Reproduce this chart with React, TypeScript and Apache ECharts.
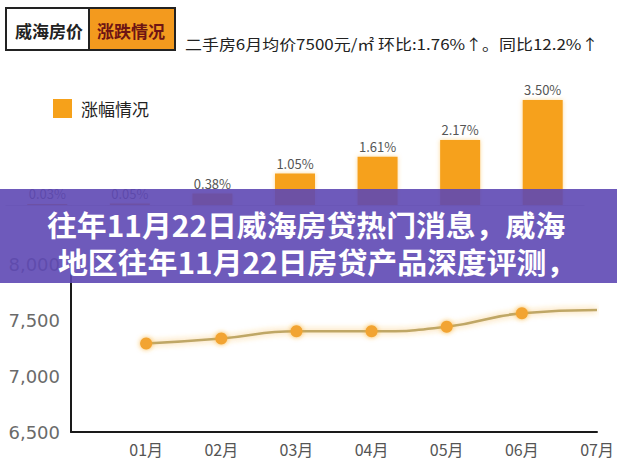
import React, { useEffect, useRef } from 'react';
import * as echarts from 'echarts';

// ---- data ----
const barCategories = ['01', '02', '03', '04', '05', '06', '07'];
const barValues = [0.03, 0.05, 0.38, 1.05, 1.61, 2.17, 3.5];
const barSeriesName = '涨幅情况';

const lineCategories = ['', '01月', '02月', '03月', '04月', '05月', '06月', '07月'];
const lineValues: (number | null)[] = [null, 7290, 7335, 7400, 7400, 7440, 7560, 7590];
const priceMin = 6500;
const priceMax = 8000;
const priceStep = 500;

const headerLeft = '威海房价';
const headerRight = '涨跌情况';
const headerNote = '二手房6月均价7500元/㎡ 环比:1.76%↑。同比12.2%↑';
const bannerLines = ['往年11月22日威海房贷热门消息，威海', '地区往年11月22日房贷产品深度评测，'];

const FONT = '"Noto Sans CJK SC", "Noto Sans", sans-serif';

export default function App() {
  const ref = useRef<HTMLDivElement>(null);
  useEffect(() => {
    if (!ref.current) return;
    const chart = echarts.init(ref.current, undefined, { renderer: 'svg' });
    const lastIdx = lineValues.length - 1;
    chart.setOption({
      animation: false,
      backgroundColor: '#ffffff',
      textStyle: { fontFamily: FONT },
      legend: {
        data: [barSeriesName],
        left: 48,
        top: 94,
        icon: 'rect',
        itemWidth: 19,
        itemHeight: 19,
        itemGap: 10,
        textStyle: { fontSize: 17, color: '#222', fontFamily: FONT, padding: [0, 0, 0, 4] },
      },
      grid: [
        { left: 6, right: 33, top: 85, bottom: 270 },
        { left: 71, right: 20, top: 264, bottom: 43 },
      ],
      xAxis: [
        {
          gridIndex: 0,
          type: 'category',
          data: barCategories,
          axisLine: { lineStyle: { color: '#cfcfcf', width: 1 } },
          axisTick: { show: false },
          axisLabel: { show: false },
        },
        {
          gridIndex: 1,
          type: 'category',
          data: lineCategories,
          boundaryGap: false,
          axisLine: { lineStyle: { color: '#1a1a1a', width: 2 } },
          axisTick: { show: false },
          axisLabel: { color: '#555', fontSize: 16, margin: 9, fontFamily: FONT },
        },
      ],
      yAxis: [
        {
          gridIndex: 0,
          type: 'value',
          min: 0,
          max: 4,
          show: false,
          splitLine: { show: false },
        },
        {
          gridIndex: 1,
          type: 'value',
          min: priceMin,
          max: priceMax,
          interval: priceStep,
          axisLine: { show: true, lineStyle: { color: '#1a1a1a', width: 2 } },
          axisTick: { show: false },
          splitLine: { show: false },
          axisLabel: {
            color: '#6a6a6a',
            fontSize: 18,
            margin: 11,
            fontFamily: '"DejaVu Sans", sans-serif',
            formatter: (v: number) => v.toLocaleString('en-US'),
          },
        },
      ],
      series: [
        {
          name: barSeriesName,
          type: 'bar',
          xAxisIndex: 0,
          yAxisIndex: 0,
          data: barValues,
          barWidth: 40,
          itemStyle: { color: '#f6a11a', shadowBlur: 4, shadowColor: 'rgba(250,190,80,0.6)' },
          label: {
            show: true,
            position: 'top',
            distance: 4,
            color: '#555',
            fontSize: 13,
            lineHeight: 13,
            fontFamily: FONT,
            formatter: (p: any) => Number(p.value).toFixed(2) + '%',
          },
        },
        {
          name: '均价',
          type: 'line',
          xAxisIndex: 1,
          yAxisIndex: 1,
          smooth: true,
          data: lineValues.map((v, i) => (i === lastIdx ? { value: v, symbol: 'none' } : v)),
          symbol: 'circle',
          symbolSize: 12,
          lineStyle: { color: '#bfa766', width: 2.5, shadowBlur: 6, shadowColor: 'rgba(246,170,40,0.7)' },
          itemStyle: { color: '#f2a431', shadowBlur: 5, shadowColor: 'rgba(246,170,40,0.8)' },
        },
      ],
      graphic: [
        {
          type: 'rect',
          shape: { x: 6, y: 8, width: 169, height: 42 },
          style: { fill: '#ffffff', stroke: '#222', lineWidth: 2 },
          z: 10,
        },
        {
          type: 'rect',
          shape: { x: 90, y: 9, width: 84, height: 40 },
          style: { fill: '#f39a1e' },
          z: 11,
        },
        {
          type: 'line',
          shape: { x1: 89, y1: 8, x2: 89, y2: 50 },
          style: { stroke: '#222', lineWidth: 2 },
          z: 12,
        },
        {
          type: 'text',
          x: 49,
          y: 30,
          style: {
            text: headerLeft,
            fill: '#222',
            font: `bold 17px ${FONT}`,
            textAlign: 'center',
            textVerticalAlign: 'middle',
          },
          z: 12,
        },
        {
          type: 'text',
          x: 131,
          y: 30,
          style: {
            text: headerRight,
            fill: '#6e1414',
            font: `bold 17px ${FONT}`,
            textAlign: 'center',
            textVerticalAlign: 'middle',
          },
          z: 12,
        },
        {
          type: 'text',
          x: 185,
          y: 43,
          scaleX: 1.13,
          style: {
            text: headerNote,
            fill: '#222',
            font: `15px ${FONT}`,
            textAlign: 'left',
            textVerticalAlign: 'middle',
          },
          z: 12,
        },
        {
          type: 'rect',
          shape: { x: 0, y: 189, width: 617, height: 94 },
          style: { fill: 'rgba(94,72,180,0.9)' },
          z: 50,
        },
        {
          type: 'text',
          x: 47,
          y: 224,
          scaleX: 1.03,
          style: {
            text: bannerLines[0],
            fill: '#ffffff',
            font: `bold 29px ${FONT}`,
            lineHeight: 29,
            textAlign: 'left',
            textVerticalAlign: 'middle',
            shadowBlur: 3,
            shadowColor: 'rgba(0,0,0,0.3)',
          },
          z: 51,
        },
        {
          type: 'text',
          x: 58,
          y: 261,
          scaleX: 1.03,
          style: {
            text: bannerLines[1],
            fill: '#ffffff',
            font: `bold 29px ${FONT}`,
            lineHeight: 29,
            textAlign: 'left',
            textVerticalAlign: 'middle',
            shadowBlur: 3,
            shadowColor: 'rgba(0,0,0,0.3)',
          },
          z: 51,
        },
      ],
    });
    return () => chart.dispose();
  }, []);
  return (
    <div
      ref={ref}
      style={{ position: 'fixed', left: 0, top: 0, width: 617, height: 475 }}
    />
  );
}
